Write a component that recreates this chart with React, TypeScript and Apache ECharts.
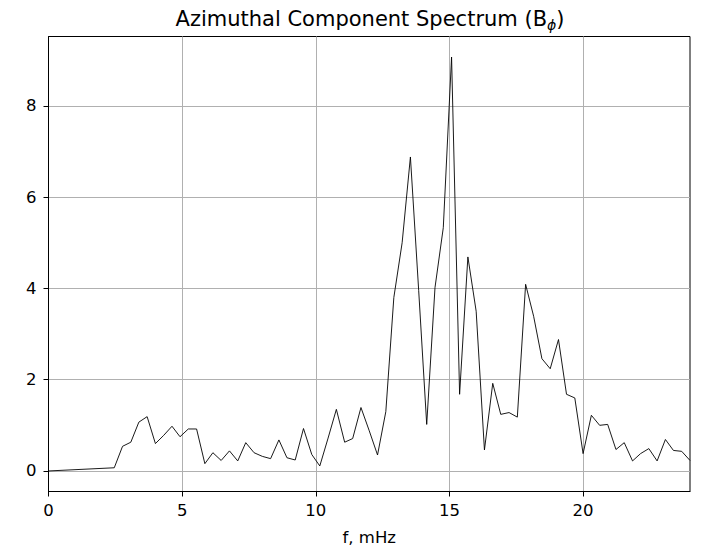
import React, { useEffect, useRef } from "react";
import * as echarts from "echarts";

const freqs = [
  0, 2.46, 2.77, 3.08, 3.38, 3.69, 4.0, 4.31, 4.62, 4.92, 5.23, 5.54, 5.85, 6.15, 6.46, 6.77, 7.08,
  7.38, 7.69, 8.0, 8.31, 8.62, 8.92, 9.23, 9.54, 9.85, 10.15, 10.46, 10.77, 11.08, 11.38, 11.69,
  12.0, 12.31, 12.62, 12.92, 13.23, 13.54, 13.85, 14.15, 14.46, 14.77, 15.08, 15.38, 15.69, 16.0,
  16.31, 16.62, 16.92, 17.23, 17.54, 17.85, 18.15, 18.46, 18.77, 19.08, 19.38, 19.69, 20.0, 20.31,
  20.62, 20.92, 21.23, 21.54, 21.85, 22.15, 22.46, 22.77, 23.08, 23.38, 23.69, 24.0,
];

const amplitudes = [
  0.0, 0.07, 0.54, 0.63, 1.07, 1.19, 0.6, 0.78, 0.98, 0.75, 0.92, 0.92, 0.16, 0.4, 0.23, 0.44, 0.22,
  0.62, 0.4, 0.32, 0.27, 0.68, 0.29, 0.24, 0.93, 0.36, 0.11, 0.72, 1.35, 0.63, 0.71, 1.39,
  0.88, 0.35, 1.3, 3.8, 5.0, 6.88, 3.95, 1.02, 4.02, 5.33, 9.07, 1.68, 4.69, 3.5,
  0.46, 1.92, 1.24, 1.28, 1.18, 4.09, 3.39, 2.46, 2.24, 2.88, 1.68, 1.6, 0.38, 1.22,
  1.0, 1.02, 0.47, 0.62, 0.22, 0.38, 0.49, 0.22, 0.69, 0.45, 0.43, 0.23,
];

const xTicks = [0, 5, 10, 15, 20];
const yTicks = [0, 2, 4, 6, 8];

const FONT = "DejaVu Sans";

export default function App() {
  const ref = useRef<HTMLDivElement>(null);

  useEffect(() => {
    if (!ref.current) return;
    const chart = echarts.init(ref.current, null, { renderer: "svg" });
    const data = freqs.map((f, i) => [f, amplitudes[i]]);
    chart.setOption({
      animation: false,
      backgroundColor: "#fff",
      textStyle: { fontFamily: FONT },
      grid: {
        left: 48.5,
        right: 15,
        top: 36.5,
        bottom: 53.5,
        show: true,
        borderColor: "#000",
        borderWidth: 1,
        backgroundColor: "transparent",
        containLabel: false,
        outerBoundsMode: "none",
      },
      xAxis: {
        type: "value",
        min: 0,
        max: 24,
        interval: 5,
        name: "f, mHz",
        nameLocation: "middle",
        nameGap: 37,
        nameTextStyle: { fontFamily: FONT, fontSize: 16.5, color: "#000" },
        axisLine: { show: true, onZero: false, lineStyle: { color: "#000", width: 1 } },
        axisTick: { show: true, inside: false, length: 5, lineStyle: { color: "#000" }, customValues: xTicks },
        axisLabel: { fontFamily: FONT, fontSize: 16.5, color: "#000", margin: 10, customValues: xTicks },
        splitLine: { show: true, lineStyle: { color: "#b0b0b0", width: 1 } },
      },
      yAxis: {
        type: "value",
        min: -0.45,
        max: 9.52,
        splitNumber: 5,
        axisLine: { show: true, onZero: false, lineStyle: { color: "#000", width: 1 } },
        axisTick: { show: true, inside: false, length: 5, lineStyle: { color: "#000" }, customValues: yTicks },
        axisLabel: {
          fontFamily: FONT,
          fontSize: 16.5,
          color: "#000",
          margin: 12,
          customValues: yTicks,
        },
        splitLine: { show: true, lineStyle: { color: "#b0b0b0", width: 1 } },
      },
      graphic: [
        {
          type: "text",
          x: 370,
          y: 19,
          style: {
            text: "{n|Azimuthal Component Spectrum (B}{s|ϕ}{n|)}",
            align: "center",
            verticalAlign: "middle",
            rich: {
              n: { fontFamily: FONT, fontSize: 21, color: "#000", lineHeight: 26, verticalAlign: "middle" },
              s: {
                fontFamily: FONT,
                fontSize: 14,
                fontStyle: "italic",
                color: "#000",
                lineHeight: 14,
                verticalAlign: "bottom",
              },
            },
          },
        },
      ],
      series: [
        {
          type: "line",
          data,
          showSymbol: false,
          symbol: "none",
          lineStyle: { color: "#000", width: 0.9 },
          clip: true,
        },
      ],
    });
    return () => chart.dispose();
  }, []);

  return (
    <div
      ref={ref}
      style={{ position: "absolute", left: 0, top: 0, width: 705, height: 545 }}
    />
  );
}
